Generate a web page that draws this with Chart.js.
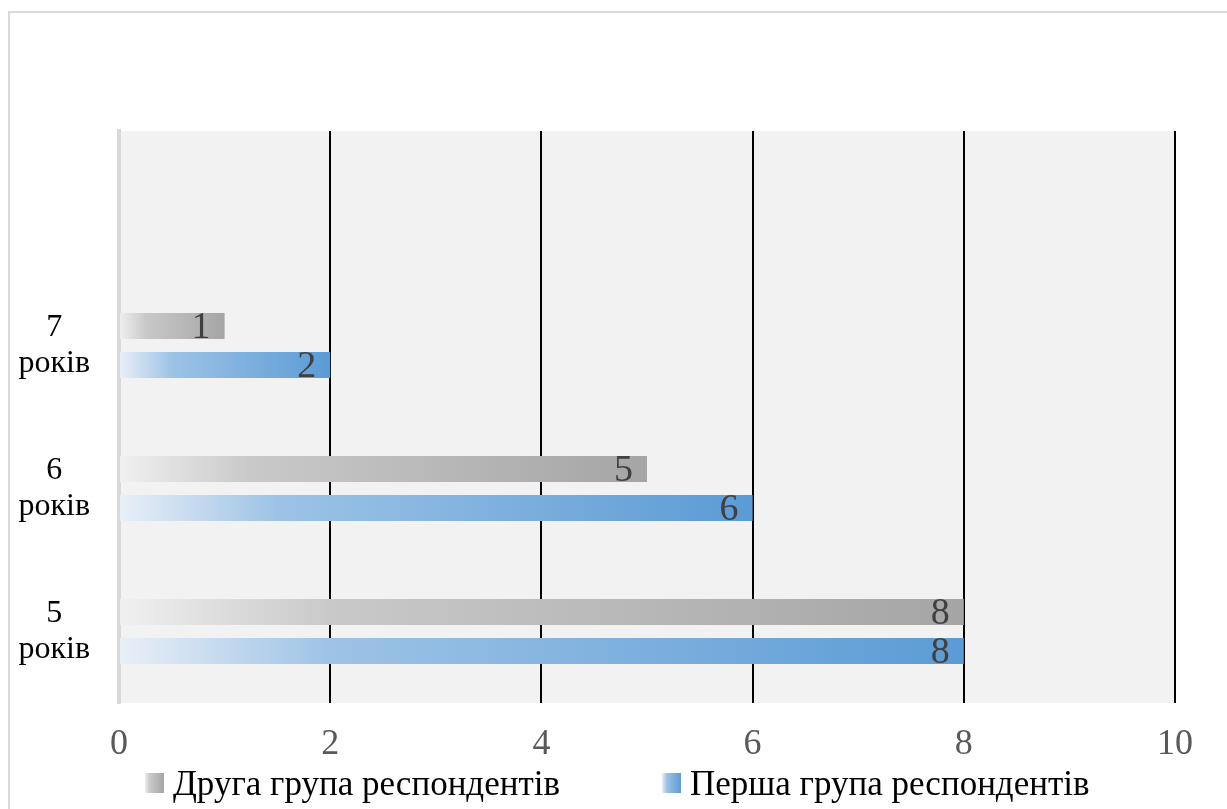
<!DOCTYPE html>
<html>
<head>
<meta charset="utf-8">
<script src="https://cdn.jsdelivr.net/npm/chart.js@4"></script>
<style>
  body { margin: 0; background: #fff; overflow: hidden; }
  #frame { position: absolute; left: 8px; top: 11px; width: 1400px; height: 1000px; border: 2px solid #d9d9d9; }
  #wrap { position: absolute; left: 0; top: 0; width: 1227px; height: 809px; }
</style>
</head>
<body>
<div id="frame"></div>
<div id="wrap"><canvas id="barChart"></canvas></div>
<script>
var categories = ['', '7 років', '6 років', '5 років'];
var secondGroup = [null, 1, 5, 8];
var firstGroup = [null, 2, 6, 8];
var seriesNames = ['Друга група респондентів', 'Перша група респондентів'];
var xTicks = [0, 2, 4, 6, 8, 10];

var serif = '"Liberation Serif", "Times New Roman", serif';

// colour stops for the gradient fills (light at the base, full at the end)
var grayStops = [[0, '#f0f0f0'], [0.25, '#c9c9c9'], [1, '#a5a5a5']];
var blueStops = [[0, '#eaeff7'], [0.25, '#9dc3e6'], [1, '#5b9bd5']];

function makeGradient(ctx, x0, x1, stops) {
    var g = ctx.createLinearGradient(x0, 0, x1, 0);
    for (let s of stops) g.addColorStop(s[0], s[1]);
    return g;
}

function barFill(stops) {
    return function (c) {
        var chart = c.chart;
        var xs = chart.scales.x;
        if (c.type !== 'data' || !xs || c.raw == null) return stops[2][1];
        var x0 = xs.getPixelForValue(0);
        var x1 = xs.getPixelForValue(c.raw);
        if (x1 - x0 < 1) return stops[2][1];
        return makeGradient(chart.ctx, x0, x1, stops);
    };
}

var plotBg = {
    id: 'plotBg',
    beforeDraw(chart) {
        var a = chart.chartArea, ctx = chart.ctx;
        ctx.save();
        ctx.fillStyle = '#f2f2f2';
        ctx.fillRect(a.left, a.top, a.right - a.left, a.bottom - a.top);
        ctx.restore();
    }
};

var valueLabels = {
    id: 'valueLabels',
    afterDatasetsDraw(chart) {
        var ctx = chart.ctx;
        ctx.save();
        ctx.font = '38px ' + serif;
        ctx.fillStyle = '#404040';
        ctx.textAlign = 'right';
        ctx.textBaseline = 'middle';
        chart.data.datasets.forEach(function (ds, i) {
            chart.getDatasetMeta(i).data.forEach(function (bar, j) {
                if (ds.data[j] == null) return;
                ctx.fillText(String(ds.data[j]), bar.x - 14, bar.y + 2);
            });
        });
        ctx.restore();
    }
};

var bottomLegend = {
    id: 'bottomLegend',
    afterDraw(chart) {
        var ctx = chart.ctx;
        var items = [{x: 145, stops: grayStops}, {x: 662, stops: blueStops}];
        ctx.save();
        ctx.font = '35px ' + serif;
        ctx.textBaseline = 'alphabetic';
        ctx.textAlign = 'left';
        chart.data.datasets.forEach(function (ds, i) {
            var it = items[i];
            ctx.fillStyle = makeGradient(ctx, it.x, it.x + 19, it.stops);
            ctx.fillRect(it.x, 773, 19, 20);
            ctx.fillStyle = '#000';
            ctx.fillText(ds.label, it.x + 28, 795);
        });
        ctx.restore();
    }
};

var ctx = document.getElementById('barChart');
var chart = new Chart(ctx, {
    type: 'bar',
    data: {
        labels: categories,
        datasets: [{
            label: seriesNames[0],
            data: secondGroup,
            backgroundColor: barFill(grayStops),
            categoryPercentage: 0.545,
            barPercentage: 0.667
        }, {
            label: seriesNames[1],
            data: firstGroup,
            backgroundColor: barFill(blueStops),
            categoryPercentage: 0.545,
            barPercentage: 0.667
        }]
    },
    options: {
        indexAxis: 'y',
        responsive: true,
        maintainAspectRatio: false,
        animation: false,
        layout: { padding: { left: 8, top: 131, right: 52, bottom: 0 } },
        plugins: {
            legend: { display: false },
            tooltip: { enabled: false }
        },
        scales: {
            x: {
                min: 0,
                max: 10,
                afterBuildTicks(axis) {
                    axis.ticks = xTicks.map(v => ({ value: v }));
                },
                afterFit(axis) { axis.height = 106; },
                grid: {
                    color: c => (c.tick && c.tick.value === 0) ? 'rgba(0,0,0,0)' : '#000',
                    lineWidth: 2,
                    drawTicks: false
                },
                border: { display: false },
                ticks: {
                    padding: 20,
                    color: '#595959',
                    font: { family: serif, size: 36 }
                }
            },
            y: {
                afterFit(axis) { axis.width = 111; },
                grid: { display: false, drawTicks: false },
                border: { display: true, color: '#d9d9d9', width: 4 },
                ticks: {
                    crossAlign: 'center',
                    padding: 29,
                    color: '#000',
                    font: { family: serif, size: 32, lineHeight: 1.15 },
                    callback: function (v, i) {
                        var s = categories[i];
                        return s ? s.split(' ') : '';
                    }
                }
            }
        }
    },
    plugins: [plotBg, valueLabels, bottomLegend]
});
</script>
</body>
</html>
